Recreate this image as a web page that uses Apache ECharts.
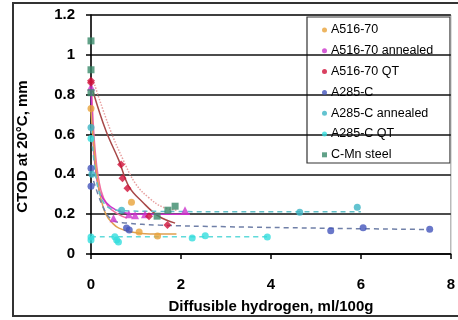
<!DOCTYPE html>
<html><head><meta charset="utf-8">
<script src="https://cdn.jsdelivr.net/npm/echarts@6/dist/echarts.min.js"></script>
<style>html,body{margin:0;padding:0;background:#fff}#c{width:458px;height:320px}</style>
</head><body><div id="c"></div>
<script>
// Data
const xTicks = [0, 2, 4, 6, 8];
const yTicks = [0, 0.2, 0.4, 0.6, 0.8, 1, 1.2];
const seriesNames = ["A516-70", "A516-70 annealed", "A516-70 QT", "A285-C", "A285-C annealed", "A285-C QT", "C-Mn steel"];

const a516 = [[0,0.73],[0.9,0.26],[1.07,0.11],[1.48,0.09]];
const a516Ann = [[0,0.84],[0.5,0.18],[0.84,0.2],[0.98,0.195],[1.2,0.2],[2.09,0.22]];
const a516QT = [[0,0.87],[0,0.86],[0.67,0.45],[0.7,0.38],[0.81,0.33],[1.29,0.19],[1.7,0.145]];
const a285 = [[0,0.43],[0,0.34],[0.79,0.13],[0.85,0.12],[5.33,0.117],[6.05,0.132],[7.53,0.124]];
const a285Ann = [[0,0.635],[0.02,0.4],[0.68,0.22],[4.64,0.21],[5.92,0.235]];
const a285QT = [[0,0.58],[0,0.085],[0,0.07],[0.53,0.087],[0.57,0.07],[0.61,0.06],[2.25,0.08],[2.54,0.092],[3.92,0.085]];
const cmn = [[0,1.07],[0,0.925],[0,0.81],[1.47,0.19],[1.71,0.22],[1.87,0.24]];

// Trend lines
const trA516 = [[0,0.72],[0.1,0.45],[0.2,0.3],[0.33,0.2],[0.5,0.15],[0.62,0.13],[0.9,0.11],[1.3,0.1],[1.9,0.1]];
const trA516Pink = [[0.02,0.8],[0.1,0.5],[0.22,0.32],[0.38,0.24],[0.6,0.2],[0.8,0.18]];
const trA516Ann = [[0,0.83],[0.07,0.49],[0.18,0.32],[0.33,0.26],[0.56,0.22],[0.8,0.205],[1.2,0.2],[2.2,0.2]];
const trA516QT = [[0.04,0.82],[0.33,0.62],[0.62,0.47],[0.84,0.34],[1.15,0.26],[1.5,0.19],[1.87,0.155]];
const trCmn = [[0.08,0.85],[0.4,0.64],[0.7,0.48],[1.0,0.35],[1.3,0.28],[1.6,0.235],[1.9,0.22]];
const trA285 = [[0,0.41],[0.26,0.24],[0.48,0.17],[0.78,0.156],[1.5,0.145],[3,0.137],[5,0.13],[7.5,0.123]];
const trA285Ann = [[0,0.63],[0.1,0.4],[0.2,0.3],[0.35,0.24],[0.6,0.22],[1.5,0.214],[4,0.212],[6,0.212]];
const trA285QT = [[0,0.087],[4,0.087]];

const colors = ["#E8A33A","#CC33CC","#D01038","#4455BB","#3CB4C4","#33DDDD","#3A8A6A"];
const symbols = ["circle","triangle","diamond","circle","circle","circle","rect"];
const scatterData = [a516, a516Ann, a516QT, a285, a285Ann, a285QT, cmn];

const chart = echarts.init(document.getElementById('c'), null, {renderer:'canvas'});
const font = '"Liberation Sans", Arial, sans-serif';

function trend(data, color, type, width) {
  return {type:'line', data:data, smooth:0.4, showSymbol:false, symbol:'none', silent:true,
    lineStyle:{color:color, type:type, width:width}, z:1};
}

const series = [
  trend(trCmn, '#E8A0A0', 'dotted', 1.5),
  trend(trA516QT, '#A84848', 'solid', 1.5),
  trend(trA516Pink, '#F070A0', 'solid', 1.5),
  trend(trA516Ann, '#CC33CC', 'solid', 1.5),
  trend(trA516, '#E0A050', 'solid', 1.5),
  trend(trA285, '#7080A8', [5,4], 1.5),
  trend(trA285Ann, '#60C0C8', [5,4], 1.5),
  trend(trA285QT, '#60DADA', [5,4], 1.5)
];
seriesNames.forEach((n,i)=>{
  series.push({type:'scatter', name:n, data:scatterData[i], symbol:symbols[i],
    symbolSize: symbols[i]==='rect'?7:(symbols[i]==='circle'?7:8),
    itemStyle:{color:colors[i]}, z:3});
});

chart.setOption({
  animation:false,
  backgroundColor:'#fff',
  grid:{left:91, right:7, top:15, bottom:66, show:true, borderColor:'#999', borderWidth:1, backgroundColor:'transparent'},
  xAxis:{type:'value', min:0, max:8, interval:2,
    axisLine:{show:true, onZero:false, lineStyle:{color:'#000', width:1.5}},
    axisTick:{show:true, length:5, lineStyle:{color:'#000', width:1.5}},
    axisLabel:{color:'#000', fontSize:15, fontWeight:'bold', fontFamily:font, margin:23},
    splitLine:{show:false},
    name:'Diffusible hydrogen, ml/100g', nameLocation:'middle', nameGap:45,
    nameTextStyle:{color:'#000', fontSize:15, fontWeight:'bold', fontFamily:font}
  },
  yAxis:{type:'value', min:0, max:1.2, interval:0.2,
    axisLine:{show:true, lineStyle:{color:'#000', width:1.5}},
    axisTick:{show:true, length:5, lineStyle:{color:'#000', width:1.5}},
    axisLabel:{color:'#000', fontSize:15, fontWeight:'bold', fontFamily:font, margin:16,
      formatter:v=>String(Math.round(v*10)/10)},
    splitLine:{show:true, lineStyle:{color:'#111', width:1.5}},
    name:'CTOD at 20°C, mm', nameLocation:'middle', nameGap:61,
    nameTextStyle:{color:'#000', fontSize:15, fontWeight:'bold', fontFamily:font, padding:[0,24,0,0]}
  },
  legend:{data:seriesNames.map((n,i)=>({name:n, icon: symbols[i]==='rect'?'rect':'circle'})),
    orient:'vertical', left:322, top:23, itemWidth:5, itemHeight:5, itemGap:6.8,
    padding:0, textStyle:{color:'#000', fontSize:12.5, fontFamily:font, lineHeight:14, padding:[0,0,0,-1]},
    selectedMode:false, z:10},
  graphic:[
    {type:'rect', shape:{x:13, y:3, width:470, height:313}, style:{fill:'none', stroke:'#333', lineWidth:2}, silent:true, z:100},
    {type:'rect', shape:{x:307, y:17, width:143, height:146}, style:{fill:'#fff', stroke:'#333', lineWidth:1.2}, silent:true, z:-1, zlevel:0}
  ],
  series:series
});
</script></body></html>
